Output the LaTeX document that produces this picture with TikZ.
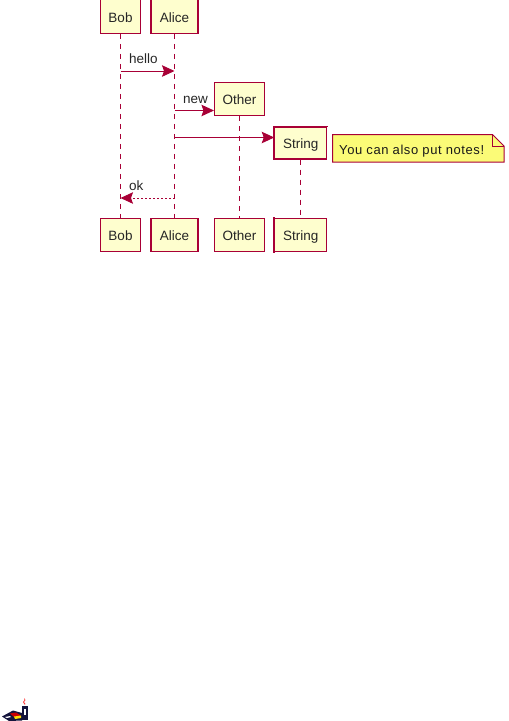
\documentclass[tikz,border=0pt]{standalone}
\usepackage{fontspec}
\setmainfont{Liberation Sans}
\usetikzlibrary{arrows.meta}
\definecolor{seqline}{HTML}{A80036}
\definecolor{seqfill}{HTML}{FEFECE}
\definecolor{notefill}{HTML}{FBFB77}
\definecolor{icondark}{HTML}{14143C}
\tikzset{
  part/.style={draw=seqline,fill=seqfill,line width=1.1pt,minimum height=33.5pt,inner sep=0pt,text height=11pt,text depth=0pt,font=\fontsize{13.5}{14}\selectfont,text=black!85},
  heavyedge/.style={draw=seqline,line width=1.8pt,line cap=rect},
  life/.style={draw=seqline,line width=1pt,dash pattern=on 5pt off 5pt},
  msg/.style={draw=seqline,line width=1pt,-{Stealth[length=12.5pt,width=11.5pt,inset=2pt,fill=seqline]}},
  reply/.style={msg,dash pattern=on 2pt off 2pt},
  lbl/.style={inner sep=0pt,font=\fontsize{13.5}{14}\selectfont,text=black!85},
  notebody/.style={draw=seqline,fill=notefill,line width=1pt,line join=miter},
  notetext/.style={inner sep=0pt,font=\fontsize{13}{14}\selectfont\addfontfeatures{LetterSpace=4.4},text=black!90}
}
\begin{document}
\begin{tikzpicture}[x=1pt,y=-1pt]
\useasboundingbox (0,0) rectangle (509,721);
% head boxes
\node[part,minimum width=40pt] (bobT) at (120.5,16.5) {Bob};
\node[part,minimum width=47pt] (aliceT) at (174.5,16.5) {Alice};
\node[part,minimum width=50pt] (otherT) at (239.5,99) {Other};
\node[part,minimum width=52pt,minimum height=32pt] (stringT) at (300.8,143) {String};
% foot boxes
\node[part,minimum width=40pt] (bobB) at (120.5,235) {Bob};
\node[part,minimum width=47pt] (aliceB) at (174.5,235) {Alice};
\node[part,minimum width=50pt] (otherB) at (239.5,235) {Other};
\node[part,minimum width=52pt] (stringB) at (300.8,235) {String};
\draw[heavyedge] (stringT.south west) -- (stringT.north west) -- (stringT.north east);
\draw[heavyedge] (stringB.south west) -- (stringB.north west);
% lifelines
\draw[life] (bobT) -- (bobB);
\draw[life] (aliceT) -- (aliceB);
\draw[life] (otherT) -- (otherB);
\draw[life] (stringT) -- (stringB);
% messages
\coordinate (bobHello) at (bobT.center |- 0,71);
\coordinate (aliceHello) at (aliceT.center |- 0,71);
\coordinate (aliceNew) at (aliceT.center |- 0,110.5);
\coordinate (aliceStr) at (aliceT.center |- 0,137.5);
\coordinate (stringIn) at (stringT.west |- 0,137.5);
\coordinate (otherIn) at (otherT.west |- 0,110.5);
\coordinate (aliceOk) at (aliceT.center |- 0,198);
\coordinate (bobOk) at (bobT.center |- 0,198);
\draw[msg] (bobHello) -- (aliceHello);
\draw[msg] (aliceNew) -- (otherIn);
\draw[msg] (aliceStr) -- (stringIn);
\draw[reply] (aliceOk) -- (bobOk);
\node[lbl,anchor=base west] (hello) at (129,63.5) {hello};
\node[lbl,anchor=base west] (new) at (183,103.5) {new};
\node[lbl,anchor=base west] (ok) at (129,190) {ok};
% note
\draw[notebody] (332.5,134.5) -- (492.5,134.5) -- (504,146) -- (504,162) -- (332.5,162) -- cycle;
\draw[notebody,fill=none] (492.5,134.5) -- (492.5,146) -- (504,146);
\node[notetext,anchor=base west] (note) at (339,154.5) {You can also put notes!};
% icon
\fill[red!70!pink] (24,698) -- (25.5,700) -- (24,702) -- (25.5,704) -- (24.5,704.5) -- (23,702) -- (24.5,700) -- cycle;
\fill[icondark] (22,706) rectangle (27.5,720);
\fill[white] (24,709) rectangle (25.5,715);
\fill[icondark] (2,716.5) -- (13,710.5) -- (22,713) -- (22,720.5) -- (9,721) -- cycle;
\fill[red!80!black] (10,713.5) -- (16,712.5) -- (21,715.5) -- (14,717) -- cycle;
\fill[yellow!80!orange] (14,716.5) -- (21,715.5) -- (21,718) -- (15,719) -- cycle;
\fill[white] (5,717) -- (10,716) -- (11,717) -- (7,718) -- cycle;
\end{tikzpicture}
\end{document}
